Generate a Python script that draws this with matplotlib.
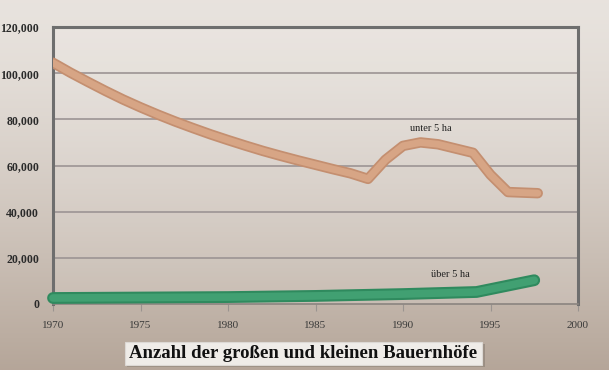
import numpy as np
import matplotlib
matplotlib.use('Agg')
import matplotlib.pyplot as plt
from matplotlib.patches import Rectangle

# ---- data ----
years_small = [1970, 1971, 1972, 1973, 1974, 1975, 1976, 1977, 1978, 1979, 1980,
               1981, 1982, 1983, 1984, 1985, 1986, 1987, 1988, 1989, 1990, 1991,
               1992, 1994, 1995, 1996, 1997.7]
farms_small = [104500, 100200, 96200, 92300, 88600, 85200, 82000, 79000, 76200, 73500, 71000,
               68600, 66300, 64200, 62200, 60300, 58400, 56600, 54200, 62500, 68500, 70000,
               69200, 65500, 56000, 48500, 48000]

years_large = [1970, 1975, 1980, 1985, 1990, 1994.2, 1997.5]
farms_large = [2600, 2800, 3000, 3500, 4300, 5200, 10300]

x_ticks = [1970, 1975, 1980, 1985, 1990, 1995, 2000]
y_ticks = [0, 20000, 40000, 60000, 80000, 100000, 120000]
y_tick_labels = ['0', '20,000', '40,000', '60,000', '80,000', '100,000', '120,000']

title = 'Anzahl der großen und kleinen Bauernhöfe'
label_small = 'unter 5 ha'
label_large = 'über 5 ha'

serif = ['Liberation Serif', 'DejaVu Serif']

fig = plt.figure(figsize=(6.09, 3.70), dpi=100)

# background gradient
bg = fig.add_axes([0, 0, 1, 1], zorder=-10)
grad = np.linspace(0, 1, 256)[:, None]
top = np.array([0.91, 0.89, 0.87])
bot = np.array([0.71, 0.65, 0.60])
w = grad[..., None] ** 1.4
img = top[None, None, :] * (1 - w) + bot[None, None, :] * w
img = np.repeat(img, 4, axis=1)
bg.imshow(img, aspect='auto', extent=[0, 1, 0, 1])
bg.set_xlim(0, 1)
bg.set_ylim(0, 1)
bg.axis('off')

ax = fig.add_axes([53 / 609, 1 - 304 / 370, 525 / 609, 277 / 370])
ax.set_facecolor((1, 1, 1, 0.12))
ax.set_xlim(1970, 2000)
ax.set_ylim(0, 120000)

for y in y_ticks[1:-1]:
    ax.axhline(y, color='#9c9494', lw=1.2, zorder=1)

for s in ['left', 'top', 'right']:
    ax.spines[s].set_color('#6e6e6e')
    ax.spines[s].set_linewidth(2.2)
ax.spines['bottom'].set_color('#8a8480')
ax.spines['bottom'].set_linewidth(1.2)

# tube-like thick lines
kw = dict(solid_capstyle='round', solid_joinstyle='round')
ax.plot(years_small, farms_small, color='#c48f70', lw=7.5, zorder=3, **kw)
ax.plot(years_small, farms_small, color='#d7a585', lw=5, zorder=4, **kw)
ax.plot(years_large, farms_large, color='#2f8a5e', lw=8.5, zorder=3, clip_on=False, **kw)
ax.plot(years_large, farms_large, color='#41a072', lw=5.5, zorder=4, clip_on=False, **kw)

ax.set_xticks(x_ticks)
ax.set_xticklabels([str(v) for v in x_ticks], family=serif, fontsize=8, color='#3a3a3a')
ax.set_yticks(y_ticks)
ax.set_yticklabels(y_tick_labels, family=serif, fontsize=8.5, color='#2a2a2a', fontweight='bold')
ax.tick_params(axis='x', length=5, color='#9a9490', pad=7)
ax.tick_params(axis='y', length=0, pad=10)

ax.text(1991.6, 76000, label_small, family=serif, fontsize=7.5, color='#222222', ha='center', va='center')
ax.text(1992.7, 12700, label_large, family=serif, fontsize=7.5, color='#222222', ha='center', va='center')

# title box with a soft shadow
fig.patches.append(Rectangle((127 / 609, 1 - 367 / 370), 358 / 609, 23 / 370,
                             transform=fig.transFigure, facecolor='#8a7e74', alpha=0.6,
                             edgecolor='none', zorder=1))
fig.patches.append(Rectangle((125 / 609, 1 - 365 / 370), 357 / 609, 23 / 370,
                             transform=fig.transFigure, facecolor='#efece8',
                             edgecolor='#dcd8d4', lw=0.8, zorder=2))
fig.text(303.5 / 609, 1 - 353.5 / 370, title, family=serif, fontsize=13.5, fontweight='bold',
         color='#111111', ha='center', va='center', zorder=3)

fig.savefig('out.png', dpi=100)
